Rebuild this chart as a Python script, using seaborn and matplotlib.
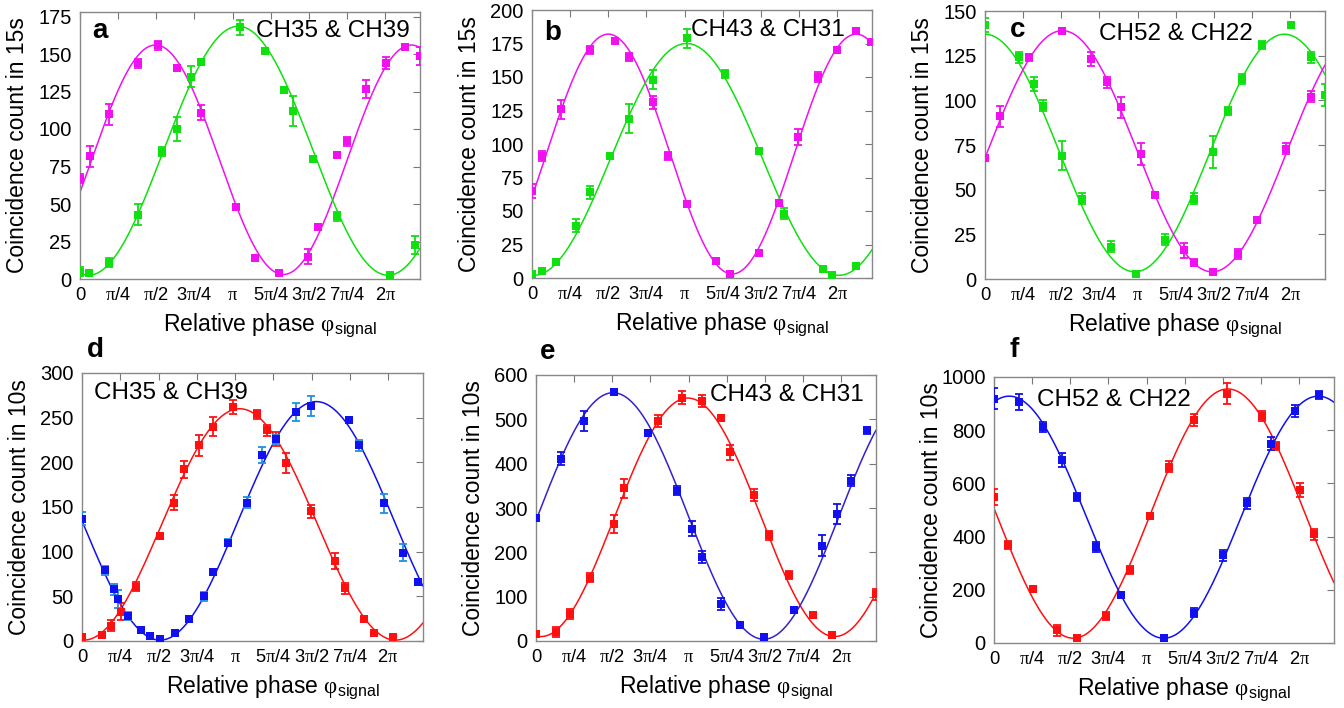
import numpy as np
import matplotlib
matplotlib.use('Agg')
import matplotlib.pyplot as plt
import seaborn as sns

# ── Data (x in units of pi/4) ───────────────────────────────
a_mag_q = [0, 0.26, 0.75, 1.52, 2.04, 2.55, 3.18, 4.08, 4.58, 5.21, 5.98, 6.23, 6.75, 7.0, 7.5, 8.01, 8.53, 8.9]
a_mag_y = [67, 82, 110, 144, 156, 141, 111, 48, 14, 4, 15, 35, 83, 92, 127, 144, 155, 149]
a_mag_e = [3, 7, 7, 3, 3, 1, 5, 1, 1, 1, 5, 1, 2, 3, 6, 4, 1, 6]
a_grn_q = [0, 0.24, 0.75, 1.52, 2.16, 2.54, 2.92, 3.18, 4.19, 4.84, 5.34, 5.59, 6.11, 6.75, 8.13, 8.77]
a_grn_y = [5, 4, 11, 43, 85, 100, 135, 145, 168, 152, 126, 112, 80, 42, 3, 23]
a_grn_e = [3, 2, 3, 7, 3, 8, 7, 1, 5, 2, 2, 10, 2, 3, 1, 6]

b_mag_q = [0, 0.26, 0.77, 1.52, 2.17, 2.55, 3.16, 3.56, 4.06, 4.82, 5.19, 5.96, 6.48, 6.97, 7.49, 7.99, 8.5, 8.89]
b_mag_y = [65, 91, 126, 170, 177, 165, 131, 91, 55, 13, 3, 19, 56, 105, 150, 170, 184, 176]
b_mag_e = [5, 4, 7, 3, 2, 3, 5, 3, 1, 1, 1, 1, 1, 6, 4, 2, 1, 1]
b_grn_q = [0, 0.26, 0.64, 1.15, 1.52, 2.04, 2.53, 3.16, 4.06, 5.07, 5.96, 6.61, 7.62, 7.87, 8.5]
b_grn_y = [3, 5, 12, 39, 64, 91, 119, 148, 179, 152, 95, 48, 7, 2, 9]
b_grn_e = [2, 2, 2, 5, 5, 1, 11, 7, 7, 3, 1, 4, 1, 1, 1]

c_grn_q = [0, 0.89, 1.28, 1.52, 2.03, 2.54, 3.3, 3.96, 4.71, 5.47, 5.98, 6.37, 6.75, 7.26, 8.02, 8.54, 8.92]
c_grn_y = [142, 124, 109, 97, 69, 45, 18, 3, 22, 45, 71, 94, 112, 131, 142, 124, 103]
c_grn_e = [4, 3, 4, 3, 8, 3, 3, 1, 3, 3, 9, 2, 3, 2, 1, 3, 6]
c_mag_q = [0, 0.39, 1.15, 2.03, 2.79, 3.19, 3.56, 4.08, 4.46, 5.22, 5.47, 5.98, 6.63, 7.13, 7.89, 8.54]
c_mag_y = [68, 91, 124, 139, 123, 110, 96, 70, 47, 16, 9, 4, 14, 33, 73, 102]
c_mag_e = [1, 6, 2, 1, 4, 3, 6, 6, 1, 4, 2, 1, 3, 1, 3, 3]

d_red_q = [0, 0.51, 0.76, 1.01, 1.4, 2.03, 2.41, 2.66, 3.05, 3.43, 3.94, 4.57, 4.83, 5.08, 5.33, 5.99, 6.61, 6.88, 7.38, 7.64, 8.14]
d_red_y = [4, 7, 17, 33, 61, 118, 155, 192, 219, 240, 262, 254, 236, 226, 199, 145, 90, 59, 25, 9, 4]
d_red_e = [1, 2, 6, 9, 5, 3, 8, 10, 12, 11, 8, 5, 6, 8, 11, 7, 9, 6, 3, 2, 3]
d_blu_q = [0, 0.59, 0.83, 0.95, 1.21, 1.53, 1.78, 2.03, 2.42, 2.79, 3.18, 3.43, 3.81, 4.32, 4.7, 5.08, 5.59, 5.99, 6.99, 7.24, 7.89, 8.39, 8.78]
d_blu_y = [137, 79, 58, 47, 28, 12, 6, 2, 9, 25, 50, 77, 110, 155, 208, 226, 256, 263, 247, 219, 154, 99, 66]
d_blu_e = [7, 5, 6, 10, 4, 2, 2, 1, 2, 3, 5, 2, 4, 6, 9, 5, 10, 11, 3, 6, 11, 10, 2]

e_blu_q = [0, 0.65, 1.27, 2.04, 2.93, 3.7, 4.09, 4.34, 4.85, 5.35, 5.98, 6.76, 7.51, 7.88, 8.27, 8.67]
e_blu_y = [277, 411, 496, 561, 469, 339, 253, 189, 83, 36, 8, 71, 215, 287, 362, 475]
e_blu_e = [3, 15, 22, 5, 4, 10, 17, 14, 13, 7, 3, 3, 23, 23, 13, 7]
e_red_q = [0, 0.52, 0.9, 1.41, 2.04, 2.3, 3.19, 3.84, 4.34, 4.85, 5.09, 5.72, 6.12, 6.62, 7.26, 7.77, 8.91]
e_red_y = [16, 20, 61, 143, 264, 344, 496, 549, 541, 503, 426, 329, 238, 148, 58, 14, 105]
e_red_e = [5, 12, 12, 10, 20, 22, 13, 15, 14, 5, 17, 13, 10, 9, 6, 3, 12]

f_blu_q = [0, 0.65, 1.28, 1.78, 2.17, 2.68, 3.32, 4.45, 5.23, 5.99, 6.62, 7.25, 7.9, 8.53]
f_blu_y = [918, 905, 812, 688, 550, 362, 180, 20, 114, 330, 525, 749, 871, 933]
f_blu_e = [40, 30, 17, 25, 15, 19, 10, 3, 18, 20, 20, 25, 22, 15]
f_red_q = [0, 0.38, 1.02, 1.66, 2.17, 2.93, 3.56, 4.08, 4.58, 5.23, 6.12, 7.02, 7.39, 8.03, 8.4]
f_red_y = [548, 367, 202, 48, 19, 103, 274, 477, 663, 839, 937, 854, 739, 575, 409]
f_red_e = [30, 15, 10, 20, 5, 15, 15, 7, 20, 22, 40, 20, 15, 25, 20]

# fit curves: offset, amplitude, peak position (pi/4 units), period (pi/4 units)
a_mag_fit = (79.5, 76.5, 1.98, 6.7)
a_grn_fit = (85.5, 83.0, 4.15, 7.85)
b_mag_fit = (92.5, 89.5, 2.0, 6.5)
b_grn_fit = (88.5, 86.5, 4.05, 8.0)
c_grn_fit = (70.5, 66.5, 0.0, 7.85)
c_mag_fit = (71.5, 67.5, 2.03, 7.85)
d_red_fit = (130.5, 129.5, 4.12, 8.15)
d_blu_fit = (134.5, 133.5, 6.12, 8.16)
e_blu_fit = (282.0, 278.0, 2.02, 7.9)
e_red_fit = (279.0, 269.0, 3.98, 7.7)
f_blu_fit = (473.0, 455.0, 0.4, 8.1)
f_red_fit = (486.5, 468.5, 6.13, 8.1)

# serif pi as in the original (Symbol-font look)
PI = '$\\mathrm{\\pi}$'
tick_labels = ['0', PI + '/4', PI + '/2', '3' + PI + '/4', PI, '5' + PI + '/4',
               '3' + PI + '/2', '7' + PI + '/4', '2' + PI]

# ── Colours ────────────────────────────────────────────────
MAG = '#f010f0'
GRN = '#10e010'
RED = '#ff1010'
BLU = '#1010f0'
BLU_ERR = '#2090e0'
BLU_E = '#3322cc'

sns.set_theme(style='white')
plt.rcParams['font.family'] = ['Liberation Sans', 'DejaVu Sans']
plt.rcParams['mathtext.fontset'] = 'custom'
plt.rcParams['mathtext.rm'] = 'Liberation Serif'
plt.rcParams['mathtext.sf'] = 'Liberation Sans'

W, H = 1344, 708
fig = plt.figure(figsize=(W / 100, H / 100), dpi=100)
fig.patch.set_facecolor('white')


def make_ax(l, t, r, b):
    return fig.add_axes([l / W, 1 - b / H, (r - l) / W, (b - t) / H])


def draw_series(ax, q, y, e, fit, col, ecol=None, lcol=None):
    x = np.array(q) * np.pi / 4
    off, amp, q0, qT = fit
    xf = np.linspace(0, 7, 500)
    yf = off + amp * np.cos(2 * np.pi * (xf - q0 * np.pi / 4) / (qT * np.pi / 4))
    sns.lineplot(x=xf, y=yf, ax=ax, color=lcol or col, lw=1.1, sort=False)
    ax.errorbar(x, y, yerr=e, fmt='none', ecolor=ecol or col, elinewidth=1.3,
                capsize=3, capthick=1.3, zorder=3)
    sns.scatterplot(x=x, y=y, ax=ax, marker='s', s=38, color=col,
                    edgecolor=col, linewidth=0, zorder=4)


def style_ax(ax, ymax, ystep, ylabel):
    ax.set_xlim(0, 7)
    ax.set_ylim(0, ymax)
    ax.set_xticks(np.arange(9) * np.pi / 4)
    ax.set_xticklabels(tick_labels)
    ax.set_yticks(np.arange(0, ymax + 0.1, ystep))
    ax.tick_params(direction='in', length=5, width=0.8, color='#777777',
                   top=True, right=True, labelsize=14.5, labelcolor='black',
                   pad=6)
    ax.tick_params(axis='x', labelsize=13.2)
    for sp in ax.spines.values():
        sp.set_edgecolor('#888888')
        sp.set_linewidth(1.0)
    ax.set_xlabel('Relative phase $\\mathrm{\\varphi}_{\\mathsf{signal}}$',
                  fontsize=16.5, labelpad=5, color='black')
    ax.xaxis.label.set_x(0.56)
    ax.set_ylabel(ylabel, fontsize=16.5, color='black')
    ax.yaxis.set_label_coords(-0.15, 0.5)


panels = [
    ((80, 12, 420, 279), 178, 25, 'Coincidence count in 15s', 'a', (0.06, 0.93), 'CH35 & CH39', (0.745, 0.93),
     [(a_mag_q, a_mag_y, a_mag_e, a_mag_fit, MAG, None, None),
      (a_grn_q, a_grn_y, a_grn_e, a_grn_fit, GRN, None, None)]),
    ((532, 10, 872, 278), 200, 25, 'Coincidence count in 15s', 'b', (0.062, 0.915), 'CH43 & CH31', (0.694, 0.925),
     [(b_mag_q, b_mag_y, b_mag_e, b_mag_fit, MAG, None, None),
      (b_grn_q, b_grn_y, b_grn_e, b_grn_fit, GRN, None, None)]),
    ((985, 11, 1325, 279), 150, 25, 'Coincidence count in 15s', 'c', (0.097, 0.93), 'CH52 & CH22', (0.56, 0.914),
     [(c_grn_q, c_grn_y, c_grn_e, c_grn_fit, GRN, None, None),
      (c_mag_q, c_mag_y, c_mag_e, c_mag_fit, MAG, None, None)]),
    ((82, 373, 423, 641), 300, 50, 'Coincidence count in 10s', 'd', (0.038, 1.086), 'CH35 & CH39', (0.26, 0.925),
     [(d_red_q, d_red_y, d_red_e, d_red_fit, RED, None, None),
      (d_blu_q, d_blu_y, d_blu_e, d_blu_fit, BLU, BLU_ERR, None)]),
    ((536, 375, 876, 641), 600, 100, 'Coincidence count in 10s', 'e', (0.035, 1.086), 'CH43 & CH31', (0.738, 0.925),
     [(e_red_q, e_red_y, e_red_e, e_red_fit, RED, None, None),
      (e_blu_q, e_blu_y, e_blu_e, e_blu_fit, BLU, None, BLU_E)]),
    ((994, 377, 1334, 643), 1000, 200, 'Coincidence count in 10s', 'f', (0.059, 1.10), 'CH52 & CH22', (0.353, 0.913),
     [(f_red_q, f_red_y, f_red_e, f_red_fit, RED, None, None),
      (f_blu_q, f_blu_y, f_blu_e, f_blu_fit, BLU, None, None)]),
]

for rect, ymax, ystep, ylab, letter, lpos, title, tpos, series in panels:
    ax = make_ax(*rect)
    ax.set_facecolor('white')
    for q, y, e, fit, col, ecol, lcol in series:
        draw_series(ax, q, y, e, fit, col, ecol, lcol)
    style_ax(ax, ymax, ystep, ylab)
    ax.text(lpos[0], lpos[1], letter, transform=ax.transAxes, fontsize=20,
            fontweight='bold', ha='center', va='center', color='black')
    ax.text(tpos[0], tpos[1], title, transform=ax.transAxes, fontsize=17.5,
            ha='center', va='center', color='black')

fig.savefig('out.png', dpi=100, facecolor='white')
